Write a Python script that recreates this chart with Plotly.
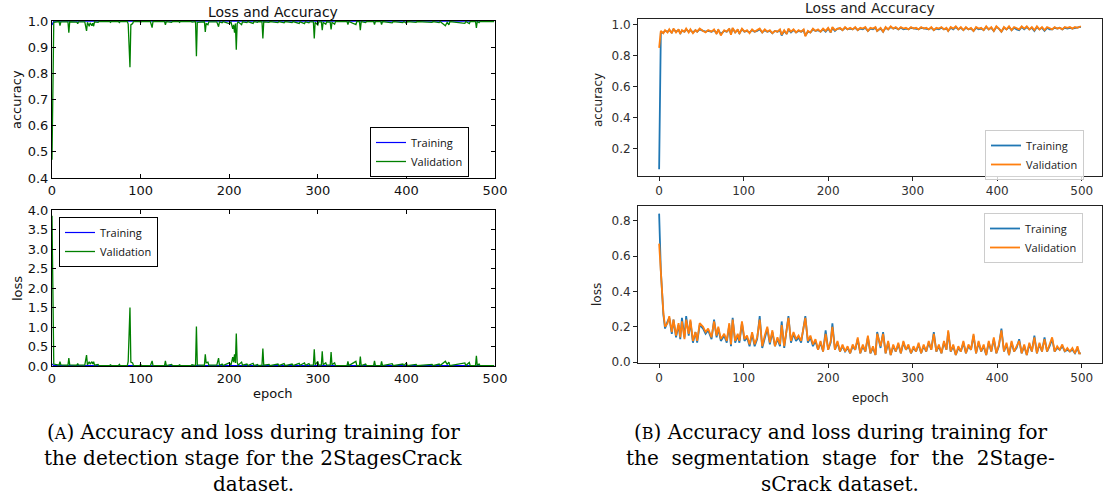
import plotly.graph_objects as go

W, H = 1109, 504

# ---------------- (A) detection stage ----------------
A_val_epochs = [0, 2, 8, 9, 10, 18, 19, 20, 28, 29, 30, 37, 39, 40, 42, 43, 45, 46, 47, 48,
                52, 53, 65, 66, 67, 75, 76, 77, 85, 86, 88, 89, 91, 92, 99, 100, 101, 111, 113, 114,
                127, 128, 129, 135, 136, 143, 144, 145, 157, 158, 162, 163, 164, 172, 173, 174, 176, 177, 186, 188,
                189, 192, 193, 200, 202, 204, 205, 206, 207, 208, 209, 210, 214, 215, 220, 221, 227, 228, 232, 233,
                237, 238, 239, 245, 246, 255, 256, 262, 263, 271, 272, 279, 280, 285, 286, 290, 291, 295, 296, 297,
                300, 301, 304, 305, 306, 309, 310, 314, 315, 316, 319, 320, 333, 334, 335, 343, 344, 347, 348, 349,
                354, 355, 363, 364, 365, 371, 372, 373, 384, 385, 396, 397, 400, 401, 411, 412, 429, 430, 437, 438,
                444, 446, 448, 449, 466, 467, 471, 472, 478, 479, 480, 482, 483, 499]
A_val_acc = [0.47, 0.995, 0.998, 0.982, 0.997, 0.997, 0.955, 0.997, 0.996, 0.990, 0.997, 0.997, 0.962, 0.995, 0.980, 0.993, 0.982, 0.992, 0.980, 0.997,
             0.995, 0.998, 0.998, 0.995, 0.998, 0.998, 0.994, 0.998, 0.998, 0.988, 0.823, 0.985, 0.990, 0.998, 0.998, 0.995, 0.998, 0.998, 0.975, 0.998,
             0.998, 0.985, 0.998, 0.995, 0.998, 0.998, 0.995, 0.998, 0.998, 0.996, 0.998, 0.865, 0.995, 0.997, 0.958, 0.990, 0.986, 0.997, 0.997, 0.978,
             0.997, 0.993, 0.998, 0.990, 0.996, 0.970, 0.985, 0.955, 0.990, 0.890, 0.990, 0.997, 0.986, 0.997, 0.994, 0.998, 0.991, 0.998, 0.995, 0.998,
             0.997, 0.933, 0.997, 0.995, 0.998, 0.994, 0.998, 0.993, 0.998, 0.994, 0.998, 0.991, 0.997, 0.990, 0.997, 0.993, 0.997, 0.997, 0.933, 0.995,
             0.985, 0.997, 0.997, 0.965, 0.995, 0.988, 0.997, 0.996, 0.968, 0.995, 0.988, 0.998, 0.998, 0.986, 0.998, 0.986, 0.998, 0.998, 0.965, 0.998,
             0.994, 0.998, 0.998, 0.986, 0.998, 0.998, 0.986, 0.998, 0.993, 0.998, 0.994, 0.998, 0.991, 0.998, 0.995, 0.998, 0.995, 0.998, 0.994, 0.998,
             0.982, 0.995, 0.985, 0.998, 0.991, 0.998, 0.990, 0.998, 0.998, 0.974, 0.998, 0.994, 0.998, 0.998]
A_val_loss = [3.85, 0.05, 0.02, 0.11, 0.03, 0.02, 0.20, 0.03, 0.02, 0.06, 0.02, 0.02, 0.28, 0.03, 0.11, 0.05, 0.11, 0.05, 0.11, 0.02,
              0.04, 0.01, 0.01, 0.03, 0.01, 0.01, 0.04, 0.01, 0.01, 0.12, 1.50, 0.10, 0.08, 0.01, 0.01, 0.04, 0.01, 0.01, 0.13, 0.01,
              0.01, 0.13, 0.01, 0.04, 0.01, 0.01, 0.03, 0.01, 0.01, 0.03, 0.01, 1.01, 0.03, 0.02, 0.30, 0.08, 0.10, 0.02, 0.02, 0.20,
              0.02, 0.05, 0.01, 0.08, 0.02, 0.23, 0.10, 0.30, 0.08, 0.83, 0.10, 0.02, 0.10, 0.02, 0.05, 0.01, 0.07, 0.01, 0.04, 0.01,
              0.02, 0.45, 0.02, 0.04, 0.01, 0.05, 0.01, 0.06, 0.01, 0.05, 0.01, 0.07, 0.02, 0.08, 0.02, 0.06, 0.02, 0.02, 0.43, 0.03,
              0.12, 0.02, 0.02, 0.38, 0.03, 0.08, 0.02, 0.02, 0.36, 0.03, 0.08, 0.01, 0.01, 0.12, 0.01, 0.12, 0.01, 0.01, 0.24, 0.01,
              0.05, 0.01, 0.01, 0.13, 0.01, 0.01, 0.12, 0.01, 0.06, 0.01, 0.05, 0.01, 0.08, 0.01, 0.04, 0.01, 0.04, 0.01, 0.05, 0.01,
              0.12, 0.04, 0.10, 0.01, 0.08, 0.01, 0.09, 0.01, 0.01, 0.26, 0.01, 0.05, 0.01, 0.01]
A_train_epochs = [0, 1, 2, 100, 200, 300, 400, 499]
A_train_acc = [0.985, 0.996, 0.999, 0.999, 0.999, 0.999, 0.999, 0.999]
A_train_loss = [0.05, 0.02, 0.01, 0.01, 0.01, 0.01, 0.01, 0.01]

# ---------------- (B) segmentation stage ----------------
B_epochs = [0, 2, 5, 7, 10, 12, 15, 17, 20, 23,
            25, 27, 30, 32, 35, 37, 40, 43, 45, 48,
            52, 55, 58, 62, 65, 68, 70, 73, 77, 80,
            83, 85, 87, 90, 93, 95, 98, 101, 104, 107,
            110, 113, 116, 119, 122, 125, 128, 131, 134, 137,
            140, 143, 145, 148, 151, 153, 156, 159, 162, 165,
            168, 171, 173, 176, 179, 182, 185, 188, 191, 194,
            197, 200, 203, 205, 208, 211, 214, 217, 220, 223,
            226, 229, 232, 235, 238, 241, 244, 247, 250, 253,
            256, 258, 262, 265, 268, 271, 274, 277, 280, 283,
            286, 289, 292, 295, 298, 301, 304, 307, 310, 313,
            316, 319, 322, 325, 328, 331, 334, 337, 340, 342,
            345, 348, 351, 354, 357, 360, 363, 366, 369, 372,
            375, 378, 381, 384, 387, 390, 393, 396, 399, 402,
            405, 408, 411, 414, 417, 420, 423, 426, 429, 432,
            435, 438, 441, 444, 447, 450, 453, 456, 459, 462,
            465, 468, 471, 474, 477, 480, 483, 486, 489, 492,
            495, 497, 499]
B_val_loss = [0.67, 0.50, 0.28, 0.20, 0.22, 0.26, 0.17, 0.24, 0.15, 0.22,
              0.14, 0.23, 0.13, 0.24, 0.16, 0.24, 0.12, 0.17, 0.12, 0.22,
              0.20, 0.17, 0.19, 0.14, 0.23, 0.15, 0.20, 0.13, 0.16, 0.12,
              0.22, 0.10, 0.24, 0.12, 0.16, 0.12, 0.23, 0.13, 0.15, 0.10,
              0.17, 0.10, 0.14, 0.24, 0.09, 0.15, 0.20, 0.11, 0.18, 0.09,
              0.14, 0.10, 0.21, 0.09, 0.20, 0.25, 0.12, 0.17, 0.13, 0.15,
              0.12, 0.20, 0.25, 0.12, 0.15, 0.10, 0.13, 0.07, 0.12, 0.06,
              0.16, 0.07, 0.12, 0.20, 0.07, 0.12, 0.06, 0.10, 0.06, 0.09,
              0.05, 0.10, 0.07, 0.14, 0.05, 0.10, 0.06, 0.15, 0.05, 0.09,
              0.04, 0.16, 0.09, 0.16, 0.05, 0.12, 0.04, 0.10, 0.06, 0.11,
              0.05, 0.12, 0.07, 0.10, 0.05, 0.09, 0.06, 0.11, 0.05, 0.10,
              0.06, 0.12, 0.07, 0.16, 0.06, 0.10, 0.05, 0.12, 0.07, 0.18,
              0.06, 0.10, 0.04, 0.09, 0.06, 0.12, 0.05, 0.10, 0.07, 0.16,
              0.05, 0.12, 0.06, 0.10, 0.04, 0.12, 0.06, 0.14, 0.05, 0.10,
              0.18, 0.06, 0.11, 0.04, 0.12, 0.06, 0.09, 0.12, 0.05, 0.10,
              0.04, 0.11, 0.06, 0.14, 0.05, 0.11, 0.06, 0.13, 0.06, 0.10,
              0.14, 0.06, 0.09, 0.07, 0.10, 0.06, 0.08, 0.06, 0.08, 0.05,
              0.09, 0.05, 0.05]
B_train_loss = [0.84, 0.52, 0.27, 0.19, 0.23, 0.25, 0.16, 0.24, 0.14, 0.21,
                0.13, 0.25, 0.14, 0.26, 0.15, 0.23, 0.11, 0.17, 0.11, 0.21,
                0.19, 0.16, 0.18, 0.13, 0.24, 0.14, 0.19, 0.12, 0.15, 0.11,
                0.21, 0.09, 0.25, 0.11, 0.15, 0.11, 0.22, 0.12, 0.14, 0.09,
                0.16, 0.09, 0.13, 0.26, 0.08, 0.14, 0.19, 0.10, 0.17, 0.09,
                0.13, 0.09, 0.23, 0.08, 0.19, 0.26, 0.11, 0.16, 0.12, 0.14,
                0.11, 0.19, 0.26, 0.11, 0.14, 0.09, 0.12, 0.07, 0.11, 0.06,
                0.18, 0.07, 0.11, 0.22, 0.07, 0.11, 0.06, 0.09, 0.06, 0.08,
                0.05, 0.09, 0.07, 0.13, 0.05, 0.09, 0.06, 0.14, 0.05, 0.08,
                0.04, 0.17, 0.08, 0.17, 0.05, 0.11, 0.04, 0.09, 0.06, 0.10,
                0.05, 0.11, 0.07, 0.09, 0.05, 0.08, 0.06, 0.10, 0.05, 0.09,
                0.06, 0.11, 0.07, 0.17, 0.06, 0.09, 0.05, 0.11, 0.07, 0.17,
                0.06, 0.09, 0.04, 0.08, 0.06, 0.11, 0.05, 0.09, 0.07, 0.15,
                0.05, 0.11, 0.06, 0.09, 0.04, 0.11, 0.06, 0.13, 0.05, 0.09,
                0.19, 0.06, 0.10, 0.04, 0.11, 0.06, 0.08, 0.13, 0.05, 0.09,
                0.04, 0.10, 0.06, 0.15, 0.05, 0.10, 0.06, 0.14, 0.06, 0.09,
                0.13, 0.06, 0.08, 0.07, 0.09, 0.06, 0.07, 0.06, 0.07, 0.05,
                0.08, 0.05, 0.05]
B_val_acc = [0.85, 0.96, 0.945, 0.965, 0.95, 0.97, 0.945, 0.975, 0.95, 0.97,
             0.94, 0.965, 0.955, 0.975, 0.95, 0.97, 0.945, 0.965, 0.955, 0.975,
             0.96, 0.95, 0.965, 0.955, 0.97, 0.94, 0.97, 0.93, 0.965, 0.955,
             0.975, 0.935, 0.98, 0.95, 0.97, 0.94, 0.975, 0.955, 0.965, 0.945,
             0.97, 0.955, 0.965, 0.975, 0.95, 0.97, 0.955, 0.965, 0.945, 0.96,
             0.955, 0.97, 0.935, 0.965, 0.94, 0.975, 0.955, 0.97, 0.95, 0.965,
             0.955, 0.97, 0.925, 0.96, 0.95, 0.975, 0.96, 0.97, 0.955, 0.975,
             0.96, 0.98, 0.95, 0.985, 0.965, 0.975, 0.98, 0.965, 0.985, 0.97,
             0.98, 0.97, 0.985, 0.965, 0.98, 0.975, 0.985, 0.96, 0.98, 0.975,
             0.985, 0.96, 0.98, 0.955, 0.985, 0.97, 0.99, 0.975, 0.985, 0.97,
             0.985, 0.975, 0.98, 0.97, 0.985, 0.975, 0.98, 0.97, 0.985, 0.975,
             0.98, 0.97, 0.985, 0.965, 0.98, 0.975, 0.985, 0.97, 0.98, 0.96,
             0.985, 0.975, 0.99, 0.97, 0.985, 0.965, 0.985, 0.97, 0.98, 0.96,
             0.985, 0.975, 0.98, 0.965, 0.99, 0.97, 0.985, 0.96, 0.99, 0.975,
             0.955, 0.985, 0.97, 0.99, 0.965, 0.985, 0.975, 0.97, 0.99, 0.975,
             0.99, 0.97, 0.985, 0.965, 0.99, 0.97, 0.985, 0.965, 0.985, 0.975,
             0.97, 0.985, 0.975, 0.98, 0.97, 0.985, 0.98, 0.985, 0.975, 0.985,
             0.98, 0.985, 0.99]
B_train_acc = [0.065, 0.945, 0.95, 0.96, 0.955, 0.965, 0.95, 0.97, 0.955, 0.965,
               0.945, 0.96, 0.955, 0.97, 0.955, 0.965, 0.95, 0.965, 0.955, 0.97,
               0.96, 0.955, 0.96, 0.955, 0.965, 0.945, 0.965, 0.94, 0.96, 0.955,
               0.97, 0.94, 0.975, 0.95, 0.965, 0.945, 0.97, 0.955, 0.96, 0.95,
               0.965, 0.955, 0.96, 0.97, 0.95, 0.965, 0.955, 0.96, 0.945, 0.96,
               0.955, 0.965, 0.93, 0.96, 0.94, 0.97, 0.95, 0.965, 0.95, 0.96,
               0.955, 0.965, 0.93, 0.955, 0.95, 0.97, 0.96, 0.965, 0.955, 0.97,
               0.955, 0.975, 0.95, 0.98, 0.96, 0.975, 0.975, 0.965, 0.98, 0.97,
               0.975, 0.97, 0.98, 0.965, 0.975, 0.97, 0.98, 0.96, 0.975, 0.97,
               0.98, 0.96, 0.975, 0.955, 0.98, 0.97, 0.985, 0.975, 0.98, 0.97,
               0.98, 0.97, 0.975, 0.97, 0.98, 0.975, 0.975, 0.97, 0.98, 0.975,
               0.975, 0.97, 0.98, 0.965, 0.975, 0.97, 0.98, 0.97, 0.975, 0.96,
               0.98, 0.97, 0.985, 0.97, 0.98, 0.965, 0.98, 0.97, 0.975, 0.96,
               0.98, 0.97, 0.975, 0.965, 0.985, 0.97, 0.98, 0.96, 0.985, 0.975,
               0.955, 0.98, 0.97, 0.985, 0.965, 0.98, 0.97, 0.965, 0.985, 0.97,
               0.985, 0.97, 0.98, 0.96, 0.985, 0.97, 0.98, 0.96, 0.98, 0.97,
               0.97, 0.98, 0.975, 0.98, 0.97, 0.98, 0.975, 0.98, 0.975, 0.98,
               0.98, 0.985, 0.985]

X_TICKS = [0, 100, 200, 300, 400, 500]
A_ACC_TICKS = [0.4, 0.5, 0.6, 0.7, 0.8, 0.9, 1.0]
A_LOSS_TICKS = [0.0, 0.5, 1.0, 1.5, 2.0, 2.5, 3.0, 3.5, 4.0]
B_ACC_TICKS = [0.2, 0.4, 0.6, 0.8, 1.0]
B_LOSS_TICKS = [0.0, 0.2, 0.4, 0.6, 0.8]

# ---------------- helpers (pixel -> paper) ----------------
def fx(px):
    return px / W

def fy(py):
    return 1 - py / H

fig = go.Figure()

# A traces
fig.add_trace(go.Scatter(x=A_train_epochs, y=A_train_acc, mode="lines", name="Training",
                         line=dict(color="#0000ff", width=1.2), xaxis="x", yaxis="y", legend="legend"))
fig.add_trace(go.Scatter(x=A_val_epochs, y=A_val_acc, mode="lines", name="Validation",
                         line=dict(color="#008000", width=1.3), xaxis="x", yaxis="y", legend="legend"))
fig.add_trace(go.Scatter(x=A_train_epochs, y=A_train_loss, mode="lines", name="Training",
                         line=dict(color="#0000ff", width=1.2), xaxis="x2", yaxis="y2", legend="legend2"))
fig.add_trace(go.Scatter(x=A_val_epochs, y=A_val_loss, mode="lines", name="Validation",
                         line=dict(color="#008000", width=1.3), xaxis="x2", yaxis="y2", legend="legend2"))
# B traces
fig.add_trace(go.Scatter(x=B_epochs, y=B_train_acc, mode="lines", name="Training",
                         line=dict(color="#1f77b4", width=1.8), xaxis="x3", yaxis="y3", legend="legend3"))
fig.add_trace(go.Scatter(x=B_epochs, y=B_val_acc, mode="lines", name="Validation",
                         line=dict(color="#ff7f0e", width=1.8), xaxis="x3", yaxis="y3", legend="legend3"))
fig.add_trace(go.Scatter(x=B_epochs, y=B_train_loss, mode="lines", name="Training",
                         line=dict(color="#1f77b4", width=1.8), xaxis="x4", yaxis="y4", legend="legend4"))
fig.add_trace(go.Scatter(x=B_epochs, y=B_val_loss, mode="lines", name="Validation",
                         line=dict(color="#ff7f0e", width=1.8), xaxis="x4", yaxis="y4", legend="legend4"))

A_font = dict(family="DejaVu Sans", size=13, color="#111111")
B_font = dict(family="DejaVu Sans", size=12, color="#303030")

def a_axis(**kw):
    d = dict(showline=True, linecolor="#000000", linewidth=1, mirror="ticks", ticks="inside",
             ticklen=4, tickcolor="#000000", showgrid=False, zeroline=False, tickfont=A_font,
             automargin=False)
    d.update(kw)
    return d

def b_axis(**kw):
    d = dict(showline=True, linecolor="#222222", linewidth=1, mirror=True, ticks="outside",
             ticklen=4, tickcolor="#222222", showgrid=False, zeroline=False, tickfont=B_font,
             automargin=False)
    d.update(kw)
    return d

A_XDOM = [fx(52), fx(495)]
B_XDOM = [fx(638), fx(1102)]

layout = dict(
    width=W, height=H, paper_bgcolor="white", plot_bgcolor="white",
    margin=dict(l=0, r=0, t=0, b=0, autoexpand=False), showlegend=True,
    xaxis=a_axis(domain=A_XDOM, anchor="y", range=[0, 500], tickvals=X_TICKS),
    yaxis=a_axis(domain=[fy(178), fy(21)], anchor="x", range=[0.4, 1.0], tickvals=A_ACC_TICKS, tickformat=".1f"),
    xaxis2=a_axis(domain=A_XDOM, anchor="y2", range=[0, 500], tickvals=X_TICKS),
    yaxis2=a_axis(domain=[fy(366), fy(210)], anchor="x2", range=[0, 4.0], tickvals=A_LOSS_TICKS, tickformat=".1f"),
    xaxis3=b_axis(domain=B_XDOM, anchor="y3", range=[-25, 524], tickvals=X_TICKS),
    yaxis3=b_axis(domain=[fy(176), fy(19)], anchor="x3", range=[0.021, 1.037], tickvals=B_ACC_TICKS, tickformat=".1f"),
    xaxis4=b_axis(domain=B_XDOM, anchor="y4", range=[-25, 524], tickvals=X_TICKS),
    yaxis4=b_axis(domain=[fy(363), fy(206)], anchor="x4", range=[-0.005, 0.883], tickvals=B_LOSS_TICKS, tickformat=".1f"),
    legend=dict(x=fx(370), y=fy(127), xanchor="left", yanchor="top", bgcolor="white",
                bordercolor="#000000", borderwidth=1, font=dict(family="Open Sans", size=11, color="#111")),
    legend2=dict(x=fx(59), y=fy(217), xanchor="left", yanchor="top", bgcolor="white",
                 bordercolor="#000000", borderwidth=1, font=dict(family="Open Sans", size=11, color="#111")),
    legend3=dict(x=fx(985), y=fy(130), xanchor="left", yanchor="top", bgcolor="rgba(255,255,255,0.8)",
                 bordercolor="#cccccc", borderwidth=1, font=dict(family="Open Sans", size=11, color="#222")),
    legend4=dict(x=fx(984), y=fy(213), xanchor="left", yanchor="top", bgcolor="rgba(255,255,255,0.8)",
                 bordercolor="#cccccc", borderwidth=1, font=dict(family="Open Sans", size=11, color="#222")),
)
fig.update_layout(**layout)

def ann(text, x, y, size, color="#111", family="DejaVu Sans", angle=0, xanchor="center"):
    fig.add_annotation(text=text, x=fx(x), y=fy(y), xref="paper", yref="paper", showarrow=False,
                       xanchor=xanchor, yanchor="middle", textangle=angle,
                       font=dict(family=family, size=size, color=color))

# titles and axis labels
ann("Loss and Accuracy", 273, 12, 14)
ann("Loss and Accuracy", 870, 8, 14, color="#222")
ann("accuracy", 17, 100, 13, angle=-90)
ann("loss", 17, 289, 13, angle=-90)
ann("epoch", 273, 393, 13)
ann("accuracy", 598, 100, 12, color="#222", angle=-90)
ann("loss", 597, 295, 12, color="#222", angle=-90)
ann("epoch", 870, 398, 12, color="#222")

# captions
CAP = "DejaVu Serif"
sc = "<span style='font-size:16px'>%s</span>"
ann("(" + sc % "A" + ") Accuracy and loss during training for", 253, 432, 20, color="#000", family=CAP)
ann("the detection stage for the 2StagesCrack", 253, 458, 20, color="#000", family=CAP)
ann("dataset.", 253, 484, 20, color="#000", family=CAP)
ann("(" + sc % "B" + ") Accuracy and loss during training for", 840, 432, 20, color="#000", family=CAP)
ann("the&nbsp; segmentation&nbsp; stage&nbsp; for&nbsp; the&nbsp; 2Stage-", 840, 458, 20, color="#000", family=CAP)
ann("sCrack dataset.", 840, 484, 20, color="#000", family=CAP)

fig.write_html("out.html", config={"displayModeBar": False},
               post_script="document.body.style.margin='0px';document.body.style.overflow='hidden';")
